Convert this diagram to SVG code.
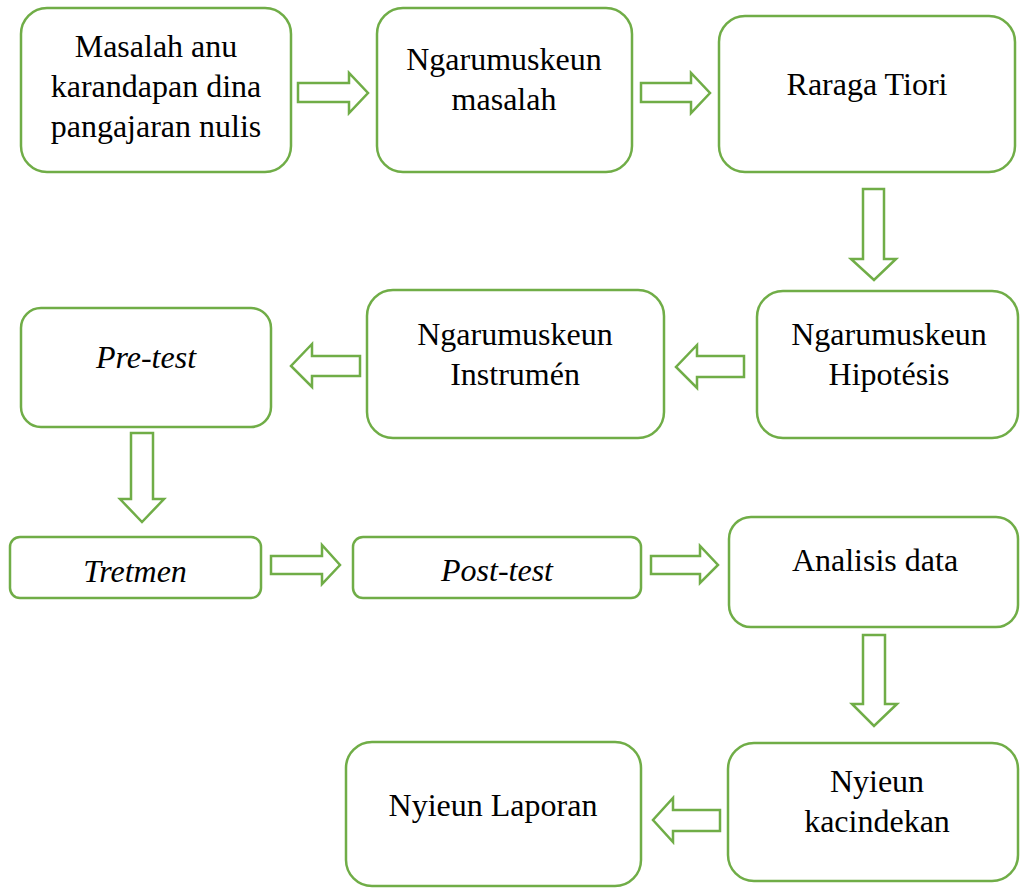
<svg xmlns="http://www.w3.org/2000/svg" width="1020" height="888" viewBox="0 0 1020 888">
<style>
.box{fill:#fff;stroke:#70AD47;stroke-width:2.5}
.arr{fill:#fff;stroke:#70AD47;stroke-width:2.5;stroke-linejoin:miter}
text{font-family:"Liberation Serif","Times New Roman",serif;font-size:32px;fill:#000;text-anchor:middle}
.it{font-style:italic}
</style>
<rect width="1020" height="888" fill="#fff"/>
<g id="n1"><rect class="box" x="21" y="8" width="270" height="164" rx="26"/>
<text x="156" y="57">Masalah anu</text><text x="156" y="97">karandapan dina</text><text x="156" y="137">pangajaran nulis</text></g>
<g id="n2"><rect class="box" x="377" y="8" width="255" height="164" rx="26"/>
<text x="504" y="70">Ngarumuskeun</text><text x="504" y="110">masalah</text></g>
<g id="n3"><rect class="box" x="719" y="16" width="296" height="156" rx="26"/>
<text x="867" y="95">Raraga Tiori</text></g>
<g id="n4"><rect class="box" x="21" y="308" width="250" height="119" rx="20"/>
<text class="it" x="146" y="368">Pre-test</text></g>
<g id="n5"><rect class="box" x="367" y="290" width="297" height="148" rx="26"/>
<text x="515" y="345">Ngarumuskeun</text><text x="515" y="385">Instrumén</text></g>
<g id="n6"><rect class="box" x="757" y="291" width="261" height="147" rx="26"/>
<text x="889" y="345">Ngarumuskeun</text><text x="889" y="385">Hipotésis</text></g>
<g id="n7"><rect class="box" x="10" y="537" width="251" height="61" rx="10"/>
<text class="it" x="135" y="582">Tretmen</text></g>
<g id="n8"><rect class="box" x="353" y="537" width="288" height="61" rx="10"/>
<text class="it" x="497" y="581">Post-test</text></g>
<g id="n9"><rect class="box" x="729" y="517" width="289" height="110" rx="22"/>
<text x="875" y="571">Analisis data</text></g>
<g id="n10"><rect class="box" x="728" y="743" width="290" height="138" rx="26"/>
<text x="877" y="792">Nyieun</text><text x="877" y="832">kacindekan</text></g>
<g id="n11"><rect class="box" x="346" y="742" width="295" height="144" rx="26"/>
<text x="493" y="816">Nyieun Laporan</text></g>
<g id="connectors">
<polygon class="arr" points="298,83 349,83 349,73 368,93 349,113 349,102 298,102"/>
<polygon class="arr" points="641,83 691,83 691,73 710,93 691,113 691,102 641,102"/>
<polygon class="arr" points="863,189 884,189 884,259 896,259 874,280 851,259 863,259"/>
<polygon class="arr" points="360,356 312,356 312,344 291,366 312,387 312,376 360,376"/>
<polygon class="arr" points="744,356 697,356 697,345 676,367 697,388 697,377 744,377"/>
<polygon class="arr" points="131,433 153,433 153,499 164,499 142,522 120,499 131,499"/>
<polygon class="arr" points="271,556 322,556 322,545 340,565 322,584 322,574 271,574"/>
<polygon class="arr" points="651,556 700,556 700,546 718,565 700,583 700,574 651,574"/>
<polygon class="arr" points="863,635 885,635 885,704 897,704 874,726 852,704 863,704"/>
<polygon class="arr" points="720,810 673,810 673,798 653,820 673,842 673,831 720,831"/>
</g>
</svg>
